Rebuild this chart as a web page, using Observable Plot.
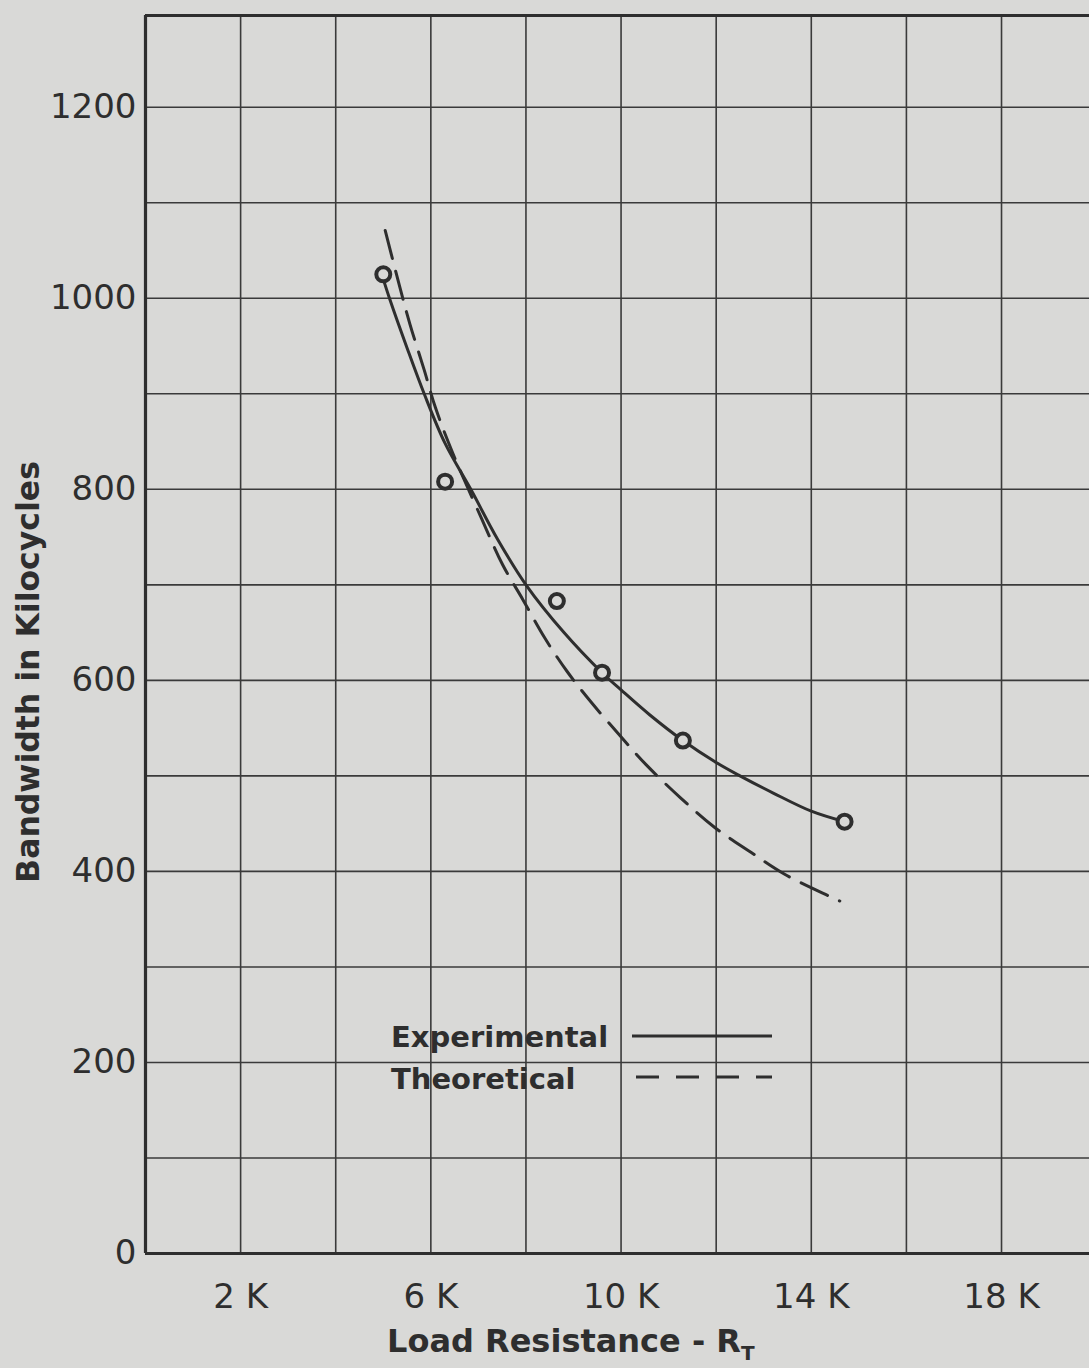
<!DOCTYPE html>
<html>
<head>
<meta charset="utf-8">
<script src="https://cdn.jsdelivr.net/npm/d3@7"></script>
<script src="https://cdn.jsdelivr.net/npm/@observablehq/plot@0.6"></script>
<style>
  html, body { margin: 0; padding: 0; background: #d9d9d7; }
  #chart svg { display: block; }
</style>
</head>
<body>
<div id="chart"></div>
<script>
// ---- data (K ohms, kilocycles) ----
const xGridK = [2, 4, 6, 8, 10, 12, 14, 16, 18];
const yGrid = [100, 200, 300, 400, 500, 600, 700, 800, 900, 1000, 1100, 1200];
const xTickK = [2, 6, 10, 14, 18];
const yTicks = [0, 200, 400, 600, 800, 1000, 1200];
const xMax = 19.85;
const yMax = 1296;

// measured points (circles)
const measuredR  = [5.0, 6.3, 8.65, 9.6, 11.3, 14.7];
const measuredBW = [1025, 808, 683, 608, 537, 452];

// experimental (solid) curve
const experimentalR  = [5.0, 5.13, 5.5, 5.86, 6.3, 6.84, 7.4, 8.0, 8.8, 9.6, 10.0, 10.6, 11.3, 12.0, 12.5, 13.2, 14.0, 14.7];
const experimentalBW = [1020, 1000, 948, 900, 848, 800, 748, 700, 650, 608, 590, 564, 537, 514, 500, 482, 463, 452];

// theoretical (dashed) curve
const theoreticalR  = [5.04, 5.33, 5.56, 5.86, 6.10, 6.46, 7.07, 7.51, 7.93, 8.40, 8.87, 9.39, 9.98, 10.52, 11.25, 11.97, 12.73, 13.44, 14.38, 14.6];
const theoreticalBW = [1071, 1015, 973, 925, 885, 838, 769, 721, 685, 644, 609, 576, 542, 512, 477, 446, 420, 397, 374, 369];

const legendItems = ["Experimental", "Theoretical"];

// ---- style ----
const BG = "#d9d9d7";
const INK = "#2e2e2e";
const GRID = "#3a3a3a";
const FONT = "'DejaVu Sans', sans-serif";

const measured = measuredR.map((r, i) => ({r, bw: measuredBW[i]}));
const experimental = experimentalR.map((r, i) => ({r, bw: experimentalBW[i]}));
const theoretical = theoreticalR.map((r, i) => ({r, bw: theoreticalBW[i]}));

const plot = Plot.plot({
  width: 1089,
  height: 1368,
  marginLeft: 145,
  marginRight: 0,
  marginTop: 15,
  marginBottom: 115,
  style: {background: BG, color: INK, fontFamily: FONT, fontSize: "34px"},
  x: {domain: [0, xMax]},
  y: {domain: [0, yMax]},
  marks: [
    Plot.ruleX(xGridK, {stroke: GRID, strokeWidth: 1.6}),
    Plot.ruleY(yGrid, {stroke: GRID, strokeWidth: 1.6}),
    Plot.ruleX([0], {stroke: INK, strokeWidth: 3.2}),
    Plot.ruleY([0], {stroke: INK, strokeWidth: 3.2}),
    Plot.ruleY([yMax], {stroke: INK, strokeWidth: 3.2}),
    Plot.axisX(xTickK, {tickSize: 0, tickPadding: 30, tickFormat: d => d + " K", label: null, fill: INK}),
    Plot.axisY(yTicks, {tickSize: 0, tickPadding: 9, tickFormat: d => String(d), label: null, fill: INK}),
    Plot.line(theoretical, {x: "r", y: "bw", stroke: INK, strokeWidth: 3, strokeDasharray: "29,13", curve: "catmull-rom"}),
    Plot.line(experimental, {x: "r", y: "bw", stroke: INK, strokeWidth: 3, curve: "catmull-rom"}),
    Plot.dot(measured, {x: "r", y: "bw", r: 7, stroke: INK, strokeWidth: 4, fill: BG})
  ]
});

document.getElementById("chart").appendChild(plot);

// ---- titles and legend ----
const svg = d3.select(plot);
const ann = svg.append("g").attr("fill", INK).style("font-family", FONT).style("font-weight", "bold");

// y title
ann.append("text")
  .attr("transform", "translate(39,672) rotate(-90)")
  .attr("text-anchor", "middle")
  .style("font-size", "31.5px")
  .text("Bandwidth in Kilocycles");

// x title with subscript
const xt = ann.append("text")
  .attr("x", 387)
  .attr("y", 1352)
  .attr("text-anchor", "start")
  .style("font-size", "32px");
xt.append("tspan").text("Load Resistance - R");
xt.append("tspan").attr("dy", 8).style("font-size", "20px").text("T");

// legend
const legendBaselines = [1047, 1089];
const legendLineY = [1036, 1077];
legendItems.forEach((name, i) => {
  ann.append("text")
    .attr("x", 391)
    .attr("y", legendBaselines[i])
    .attr("text-anchor", "start")
    .style("font-size", "29px")
    .text(name);
  svg.append("line")
    .attr("x1", i === 0 ? 632 : 636)
    .attr("x2", 772)
    .attr("y1", legendLineY[i])
    .attr("y2", legendLineY[i])
    .attr("stroke", INK)
    .attr("stroke-width", 3)
    .attr("stroke-dasharray", i === 0 ? null : "23,17");
});
</script>
</body>
</html>
